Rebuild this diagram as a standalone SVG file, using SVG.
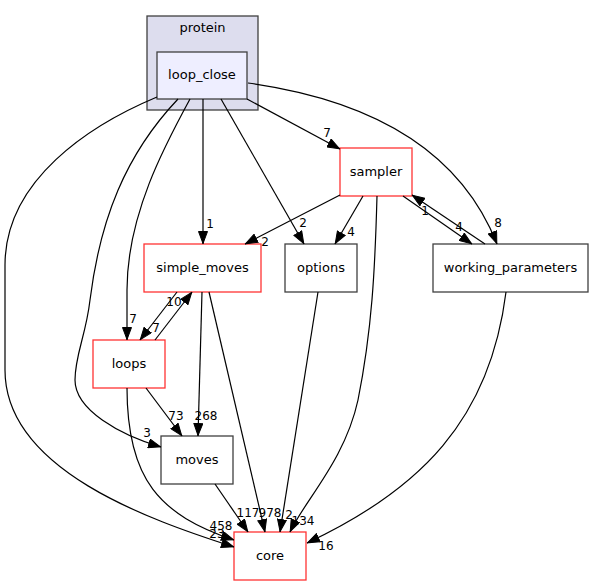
<svg xmlns="http://www.w3.org/2000/svg" width="594" height="585" viewBox="0 0 594 585">
<style>
.cl{fill:#ddddee;stroke:#404040;stroke-width:1.3}
.nd{fill:#ffffff;stroke:#404040;stroke-width:1.3}
.rd{fill:#ffffff;stroke:#ff3333;stroke-width:1.3}
.cur{fill:#eeeeff;stroke:#404040;stroke-width:1.3}
.t{font-family:"DejaVu Sans",sans-serif;font-size:13px;fill:#000;text-anchor:middle}
.e{fill:none;stroke:#000;stroke-width:1.2;marker-end:url(#ah)}
.l{font-family:"DejaVu Sans",sans-serif;font-size:12px;fill:#000;text-anchor:middle}
</style>
<defs>
<marker id="ah" viewBox="0 0 13 10" refX="13" refY="5" markerWidth="13" markerHeight="10" markerUnits="userSpaceOnUse" orient="auto">
<path d="M0.5,0.5 L12.5,5 L0.5,9.5 z" fill="#000" stroke="#000" stroke-width="1"/>
</marker>
</defs>
<rect width="594" height="585" fill="#ffffff"/>
<g id="cluster_protein">
<rect class="cl" x="147" y="16" width="111" height="94"/>
<text class="t" x="202.5" y="32">protein</text>
</g>
<g id="node_loop_close">
<rect class="cur" x="157" y="52" width="90" height="47"/>
<text class="t" x="202" y="79">loop_close</text>
</g>
<g id="node_sampler">
<rect class="rd" x="340" y="148" width="72" height="48"/>
<text class="t" x="376" y="176">sampler</text>
</g>
<g id="node_simple_moves">
<rect class="rd" x="144" y="244" width="117" height="48"/>
<text class="t" x="202.5" y="272">simple_moves</text>
</g>
<g id="node_options">
<rect class="nd" x="285" y="244" width="72" height="48"/>
<text class="t" x="321" y="272">options</text>
</g>
<g id="node_working_parameters">
<rect class="nd" x="433" y="244" width="155" height="48"/>
<text class="t" x="510.5" y="272">working_parameters</text>
</g>
<g id="node_loops">
<rect class="rd" x="93" y="340" width="72" height="48"/>
<text class="t" x="129" y="368">loops</text>
</g>
<g id="node_moves">
<rect class="nd" x="161" y="436" width="72" height="48"/>
<text class="t" x="197" y="464">moves</text>
</g>
<g id="node_core">
<rect class="rd" x="234" y="532" width="72" height="48"/>
<text class="t" x="270" y="560">core</text>
</g>
<g id="connectors">
<path class="e" d="M157,97 C90,125 5,180 5,265 L5,370 C5,470 150,520 234,547"/>
<path class="e" d="M178,99 C125,155 100,220 90,300 C86,335 75,355 75,380 C75,410 120,435 161,447"/>
<path class="e" d="M190,99 C165,145 127,215 127,290 L127,340"/>
<path class="e" d="M203,99 L203,244"/>
<path class="e" d="M221,99 L304,244"/>
<path class="e" d="M247,99 L340,149"/>
<path class="e" d="M248,83 C370,100 460,150 497,244"/>
<path class="e" d="M340,195 L245,244"/>
<path class="e" d="M363,196 L335,244"/>
<path class="e" d="M377,196 C375,270 372,330 358,400 C345,460 305,500 290,532"/>
<path class="e" d="M403,196 L472,244"/>
<path class="e" d="M485,244 L412,195"/>
<path class="e" d="M506,292 C490,420 420,490 307,543"/>
<path class="e" d="M177,292 L140,340"/>
<path class="e" d="M155,340 L192,292"/>
<path class="e" d="M202,292 L198,436"/>
<path class="e" d="M209,292 L265,532"/>
<path class="e" d="M318,292 L280,532"/>
<path class="e" d="M146,388 L182,436"/>
<path class="e" d="M127,388 C127,480 160,515 234,540"/>
<path class="e" d="M215,484 L248,532"/>
<text class="l" x="217" y="538">23</text>
<text class="l" x="147" y="437">3</text>
<text class="l" x="133" y="323">7</text>
<text class="l" x="210" y="228">1</text>
<text class="l" x="303" y="227">2</text>
<text class="l" x="327" y="137">7</text>
<text class="l" x="498" y="227">8</text>
<text class="l" x="265" y="246">2</text>
<text class="l" x="351" y="236">4</text>
<text class="l" x="303" y="525">134</text>
<text class="l" x="459" y="231">4</text>
<text class="l" x="425" y="215">1</text>
<text class="l" x="326" y="550">16</text>
<text class="l" x="156" y="332">7</text>
<text class="l" x="174" y="306">10</text>
<text class="l" x="206" y="420">268</text>
<text class="l" x="270" y="517">978</text>
<text class="l" x="289" y="519">2</text>
<text class="l" x="176" y="420">73</text>
<text class="l" x="221" y="530">458</text>
<text class="l" x="248" y="517">117</text>
</g>
</svg>
